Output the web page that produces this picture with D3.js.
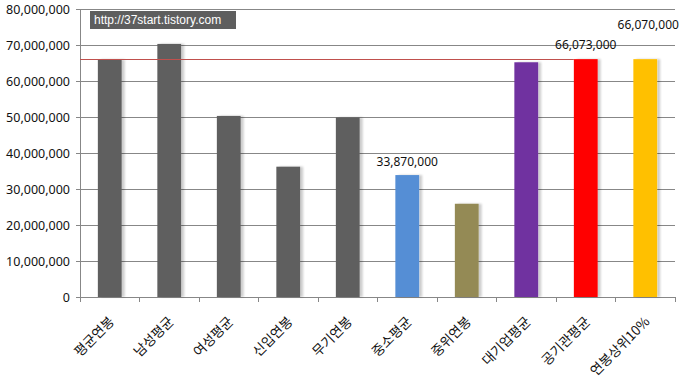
<!DOCTYPE html>
<html>
<head>
<meta charset="utf-8">
<script src="https://cdn.jsdelivr.net/npm/d3@7"></script>
<style>
  body { margin: 0; background: #fff; }
  svg { display: block; }
</style>
</head>
<body>
<div id="chart-area"></div>
<script>
// data
var categories = ["평균연봉", "남성평균", "여성평균", "신입연봉", "무기연봉",
                  "중소평균", "중위연봉", "대기업평균", "공기관평균", "연봉상위10%"];
var values = [66000000, 70300000, 50300000, 36200000, 49900000,
              33870000, 25900000, 65200000, 66073000, 66070000];
var barColors = ["#5f5f5f", "#5f5f5f", "#5f5f5f", "#5f5f5f", "#5f5f5f",
                 "#558ed5", "#948a54", "#7030a0", "#ff0000", "#ffc000"];
var labelled = [5, 8, 9];          // bars that carry a value label
var yTicks = [0, 10000000, 20000000, 30000000, 40000000, 50000000, 60000000, 70000000, 80000000];
var refValue = 66073000;           // red reference line
var watermark = "http://37start.tistory.com";

var margin = { left: 80, right: 15, top: 9, bottom: 83 };
var W = 690, H = 380;
var width = W - margin.left - margin.right,
    height = H - margin.top - margin.bottom;

var svg = d3.select("#chart-area")
    .append("svg")
    .attr("width", W)
    .attr("height", H);

var defs = svg.append("defs");
var f = defs.append("filter").attr("id", "shadow")
    .attr("x", "-20%").attr("y", "-5%").attr("width", "150%").attr("height", "110%");
f.append("feGaussianBlur").attr("in", "SourceAlpha").attr("stdDeviation", 1.2).attr("result", "b");
f.append("feOffset").attr("in", "b").attr("dx", 2.5).attr("dy", 0).attr("result", "o");
f.append("feComponentTransfer").attr("in", "o").attr("result", "s")
    .append("feFuncA").attr("type", "linear").attr("slope", 0.2);
var fm = f.append("feMerge");
fm.append("feMergeNode").attr("in", "s");
fm.append("feMergeNode").attr("in", "SourceGraphic");

var g = svg.append("g")
    .attr("transform", "translate(" + margin.left + "," + margin.top + ")");

// Scales
var x = d3.scaleBand()
    .domain(categories)
    .range([0, width])
    .paddingInner(0.6)
    .paddingOuter(0.3);
var y = d3.scaleLinear()
    .domain([0, 80000000])
    .range([height, 0]);

// grid
g.selectAll(".grid").data(yTicks.slice(1)).enter()
    .append("line")
    .attr("x1", 0).attr("x2", width)
    .attr("y1", function(d) { return Math.round(y(d)) + 0.5; })
    .attr("y2", function(d) { return Math.round(y(d)) + 0.5; })
    .attr("stroke", "#878787");

// Y Axis
var yAxisCall = d3.axisLeft(y)
    .tickValues(yTicks)
    .tickSize(4)
    .tickFormat(d3.format(","));
var yAxis = g.append("g").attr("class", "y axis").call(yAxisCall);
yAxis.select(".domain").attr("stroke", "#878787").attr("d", "M0.5," + height + "V0");
yAxis.selectAll(".tick line").attr("stroke", "#878787");
yAxis.selectAll(".tick text")
    .attr("x", -10)
    .attr("font-family", "'Noto Sans', sans-serif")
    .attr("font-size", "12.5px")
    .attr("fill", "#111");

// X Axis (ticks at category boundaries)
var step = x.step(), off = (step - x.bandwidth()) / 2;
var bounds = categories.map(function(c) { return x(c) - off; });
bounds.push(x(categories[categories.length - 1]) + x.bandwidth() + off);
g.append("line")
    .attr("x1", 0).attr("x2", width)
    .attr("y1", height + 0.5).attr("y2", height + 0.5)
    .attr("stroke", "#878787");
g.selectAll(".xtick").data(bounds).enter()
    .append("line")
    .attr("x1", function(d) { return Math.round(d) + 0.5; })
    .attr("x2", function(d) { return Math.round(d) + 0.5; })
    .attr("y1", height).attr("y2", height + 5)
    .attr("stroke", "#878787");

g.selectAll(".xlabel").data(categories).enter()
    .append("text")
    .attr("text-anchor", "end")
    .attr("font-family", "'Noto Sans CJK KR', sans-serif")
    .attr("font-size", "13.5px")
    .attr("fill", "#111")
    .attr("transform", function(d) {
        var cx = x(d) + x.bandwidth() / 2 + 2;
        return "translate(" + cx + "," + (height + 22) + ") rotate(-45)";
    })
    .attr("dy", "0.35em")
    .text(function(d) { return d; });

// Bars
g.selectAll(".bar").data(values).enter()
    .append("rect")
    .attr("x", function(d, i) { return x(categories[i]); })
    .attr("width", x.bandwidth())
    .attr("y", function(d) { return y(d); })
    .attr("height", function(d) { return height - y(d); })
    .attr("fill", function(d, i) { return barColors[i]; })
    .attr("filter", "url(#shadow)");

// reference line up to the 공기관평균 bar
g.append("line")
    .attr("x1", 0)
    .attr("x2", x(categories[8]))
    .attr("y1", Math.round(y(refValue)) + 0.5)
    .attr("y2", Math.round(y(refValue)) + 0.5)
    .attr("stroke", "#c0504d")
    .attr("stroke-width", 1);

// value labels
var labelShift = { 5: [0, -9], 8: [0, -10], 9: [3, -30] };
g.selectAll(".vlabel").data(labelled).enter()
    .append("text")
    .attr("text-anchor", "middle")
    .attr("font-family", "'Noto Sans', sans-serif")
    .attr("font-size", "12px")
    .attr("fill", "#111")
    .attr("x", function(i) { return x(categories[i]) + x.bandwidth() / 2 + labelShift[i][0]; })
    .attr("y", function(i) { return y(values[i]) + labelShift[i][1]; })
    .text(function(i) { return d3.format(",")(values[i]); });

// watermark
svg.append("rect")
    .attr("x", 90).attr("y", 11).attr("width", 146).attr("height", 18)
    .attr("fill", "#5e5e5e");
svg.append("text")
    .attr("x", 94).attr("y", 24)
    .attr("font-family", "'Liberation Sans', Arial, sans-serif")
    .attr("font-size", "12px")
    .attr("fill", "#fff")
    .text(watermark);
</script>
</body>
</html>
